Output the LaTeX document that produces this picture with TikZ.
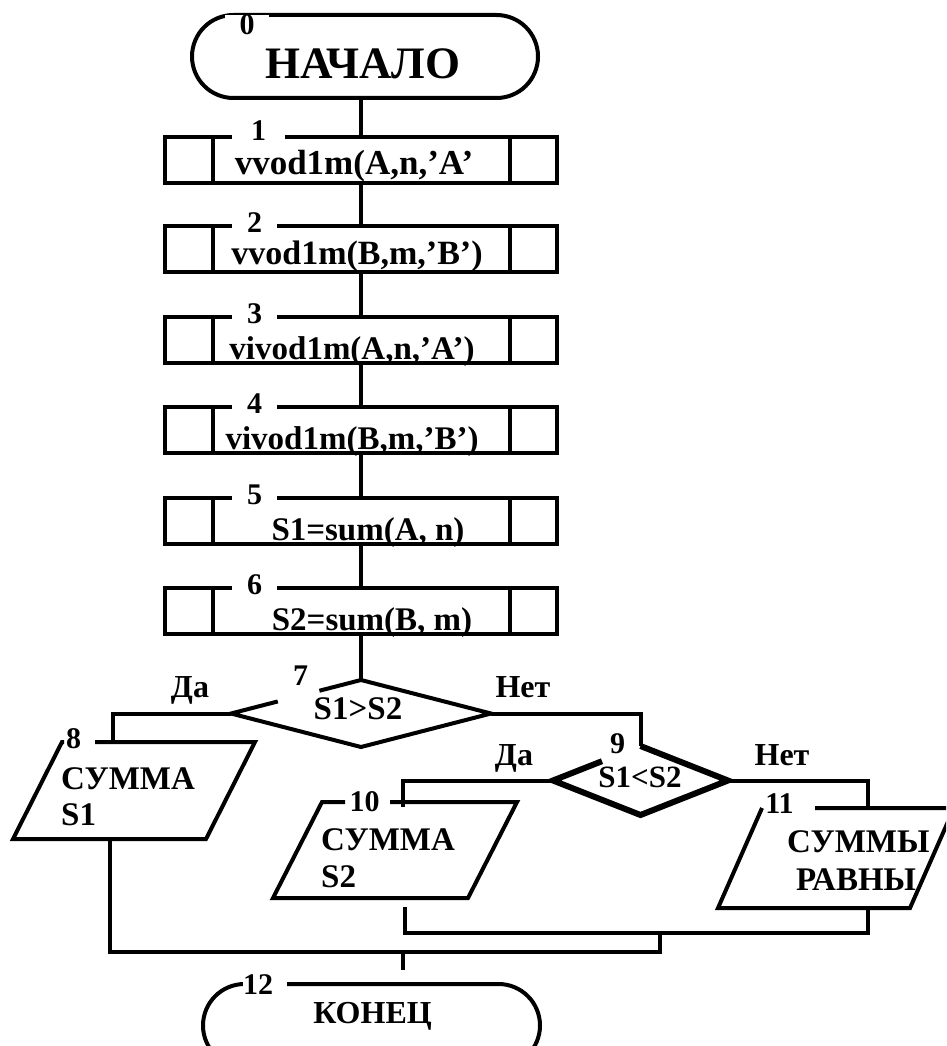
\documentclass[tikz,border=0pt]{standalone}
\usepackage{fontspec}
\setmainfont{Liberation Serif}
\usetikzlibrary{calc}
\newcommand\fsz[1]{\fontsize{#1}{#1}\selectfont\bfseries}
\begin{document}
\begin{tikzpicture}[x=1pt,y=-1pt,
  ln/.style={line width=4pt},
  term/.style={draw,line width=4pt,rectangle,rounded corners=41.5pt,inner sep=0pt,outer sep=0pt,minimum height=83pt},
  blk/.style={draw,line width=4pt,rectangle,inner sep=0pt,outer sep=0pt,minimum width=392pt,minimum height=46pt},
  frame/.style={rectangle,draw=none,inner sep=0pt,outer sep=0pt},
  lbl/.style={fill=white,inner sep=0pt,minimum height=20pt,font=\fsz{30}},
  num/.style={inner sep=0pt,font=\fsz{30}},
  txt/.style={inner sep=0pt,font=\fsz{34}},
]
\useasboundingbox (0,0) rectangle (946,1046);
\clip (0,0) rectangle (946,1046);

% terminator 0
\node[term,minimum width=346pt] (t0) at (365,56.5) {};
\node[lbl,minimum width=44pt] (l0) at (247,25) {0};
\node[txt,font=\fsz{45},anchor=base] (t0t) at (363,79) {НАЧАЛО};

% process boxes
\foreach \i/\y in {1/160,2/249,3/340,4/430,5/521,6/611} {
  \node[blk] (b\i) at (361,\y) {};
  \draw[ln] ([xshift=48pt]b\i.north west) -- ([xshift=48pt]b\i.south west);
  \draw[ln] ([xshift=-47pt]b\i.north east) -- ([xshift=-47pt]b\i.south east);
}
\node[lbl,minimum width=53pt] (l1) at (258.5,131) {1};
\node[lbl,minimum width=45pt] (l2) at (254.5,223) {2};
\node[lbl,minimum width=45pt] (l3) at (254.5,314) {3};
\node[lbl,minimum width=45pt] (l4) at (254.5,404) {4};
\node[lbl,minimum width=45pt] (l5) at (254.5,495) {5};
\node[lbl,minimum width=45pt] (l6) at (254.5,585) {6};

\node[txt,font=\fsz{35},anchor=base] (b1t) at (354,174) {vvod1m(A,n,’A’};
\node[txt,font=\fsz{34},anchor=base] (b2t) at (357,264) {vvod1m(B,m,’B’)};
\node[txt,font=\fsz{33},anchor=base] (b3t) at (352,359) {vivod1m(A,n,’A’)};
\node[txt,font=\fsz{33},anchor=base] (b4t) at (352,449) {vivod1m(B,m,’B’)};
\node[txt,font=\fsz{33},anchor=base] (b5t) at (368,540) {S1=sum(A, n)};
\node[txt,font=\fsz{33},anchor=base] (b6t) at (372,630) {S2=sum(B, m)};

% decision 7
\node[frame,minimum width=260pt,minimum height=67pt] (d7) at (361,713.5) {};
\draw[ln] ($(d7.west)!0.68!(d7.north)$) -- (d7.north) -- (d7.east) -- (d7.south) -- (d7.west) -- ($(d7.west)!0.36!(d7.north)$);
\node[num] (l7) at (300.5,676) {7};
\node[txt,font=\fsz{33},anchor=base] (d7t) at (358,719) {S1>S2};

% spine connectors
\draw[ln] (b1.north |- t0.south) -- (b1.north);
\draw[ln] (b1.south) -- (b2.north);
\draw[ln] (b2.south) -- (b3.north);
\draw[ln] (b3.south) -- (b4.north);
\draw[ln] (b4.south) -- (b5.north);
\draw[ln] (b5.south) -- (b6.north);
\draw[ln] (b6.south) -- (d7.north);

% decision 9
\node[frame,minimum width=175pt,minimum height=69pt] (d9) at (640.5,780.5) {};
\draw[line width=6pt] (d9.north) -- (d9.east) -- (d9.south) -- (d9.west) -- ($(d9.west)!0.56!(d9.north)$);
\node[num] (l9) at (617.5,744) {9};
\node[txt,font=\fsz{31},anchor=base] (d9t) at (640,787) {S1<S2};

% parallelogram 8
\node[frame,minimum width=242pt,minimum height=97pt] (p8) at (134,790.5) {};
\draw[ln] ([xshift=82pt]p8.north west) -- (p8.north east) -- ([xshift=-49pt]p8.south east) -- (p8.south west) -- ([xshift=49pt]p8.north west) -- ([xshift=51pt]p8.north west);
\node[num] (l8) at (73.5,739) {8};
\node[txt,font=\fsz{33},anchor=base west] (p8a) at (61,789) {СУММА};
\node[txt,font=\fsz{33},anchor=base west] (p8b) at (61,825) {S1};

% parallelogram 10
\node[frame,minimum width=244pt,minimum height=96pt] (p10) at (395,850) {};
\draw[ln] ([xshift=117pt]p10.north west) -- (p10.north east) -- ([xshift=-49pt]p10.south east) -- (p10.south west) -- ([xshift=49pt]p10.north west) -- ([xshift=72pt]p10.north west);
\node[num] (l10) at (364.5,802) {10};
\node[txt,font=\fsz{33},anchor=base west] (p10a) at (321,850) {СУММА};
\node[txt,font=\fsz{33},anchor=base west] (p10b) at (321,887) {S2};

% parallelogram 11
\node[frame,minimum width=236pt,minimum height=100pt] (p11) at (836,858) {};
\draw[ln] ([xshift=97pt]p11.north west) -- (p11.north east) -- ([xshift=-44pt]p11.south east) -- (p11.south west) -- ([xshift=44pt]p11.north west);
\node[num] (l11) at (779.5,804) {11};
\node[txt,font=\fsz{33},anchor=base west] (p11a) at (787,852) {СУММЫ};
\node[txt,font=\fsz{33},anchor=base west] (p11b) at (796,890) {РАВНЫ};

% branch connectors and labels
\draw[ln] (d7.west) -| ([xshift=-21pt]p8.north);
\draw[ln] (d7.east) -| (d9.north);
\draw[ln] (d9.west) -| ([xshift=8pt,yshift=-5pt]p10.north);
\draw[ln] (d9.east) -| ([xshift=32pt]p11.north);
\node[txt,font=\fsz{32},anchor=base] (da1) at (190,697) {Да};
\node[txt,font=\fsz{32},anchor=base] (net1) at (523,697) {Нет};
\node[txt,font=\fsz{32},anchor=base] (da2) at (514,765) {Да};
\node[txt,font=\fsz{32},anchor=base] (net2) at (782,765) {Нет};

% terminator 12
\node[term,minimum width=337pt] (t12) at (371.5,1025.5) {};
\node[lbl,anchor=west] (l12) at (243,985) {\makebox[44pt][l]{12}};
\node[txt,font=\fsz{32},anchor=base] (t12t) at (372.5,1023) {КОНЕЦ};

% merging connectors
\coordinate (jr) at (868,933);
\coordinate (j1) at (660,933);
\coordinate (j2) at (662,952);
\coordinate (j3) at (403,952);
\coordinate (t12top) at ([yshift=14pt]t12.north);
\draw[ln] ([xshift=-24pt]p8.south) |- (j2);
\draw[ln] ([xshift=10pt,yshift=-9pt]p10.south) |- (jr) -- ([xshift=32pt]p11.south);
\draw[ln] (j1) -- (j1 |- j2);
\draw[ln] (j3) -- (j3 |- t12top);
\end{tikzpicture}
\end{document}
